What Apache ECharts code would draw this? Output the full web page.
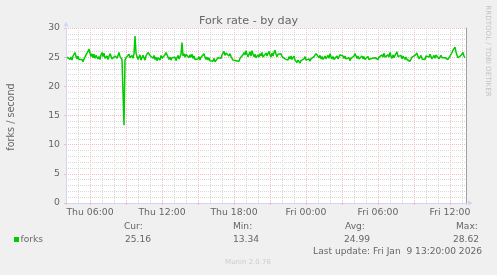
<!DOCTYPE html>
<html><head><meta charset="utf-8">
<script src="https://cdn.jsdelivr.net/npm/echarts@6/dist/echarts.min.js"></script>
<style>html,body{margin:0;padding:0;background:#F0F0F0}#c{width:497px;height:275px}</style>
</head><body><div id="c"></div>
<script>
const chartTitle = 'Fork rate - by day';
const yAxisTitle = 'forks / second';
const seriesName = 'forks';
const startHour = 4;            // Thu 04:00
const endHour = 37 + 20 / 60;   // Fri 13:20
const stepMinutes = 5;
const dayNames = ['Thu', 'Fri'];
const legendLabels = ['Cur:', 'Min:', 'Avg:', 'Max:'];
const legendValues = ['25.16', '13.34', '24.99', '28.62'];
const lastUpdate = 'Last update: Fri Jan  9 13:20:00 2026';
const watermark = 'RRDTOOL / TOBI OETIKER';
const version = 'Munin 2.0.76';

const forks = [
  25.0,24.7,25.3,24.6,25.0,24.5,25.2,25.4,25.8,25.1,24.7,25.2,24.6,24.8,24.3,24.6,24.2,24.7,24.9,25.4,
  25.7,26.0,26.4,25.7,25.1,25.6,24.9,25.5,24.8,25.3,25.6,24.7,25.1,24.6,25.4,25.8,25.1,25.7,24.8,24.7,
  25.2,24.6,25.1,25.6,25.2,24.7,25.0,24.5,25.2,25.5,24.8,25.3,25.8,25.1,24.8,24.6,24.8,13.34,24.5,24.9,
  24.7,25.2,25.5,24.9,24.6,25.3,24.8,25.6,28.62,25.7,25.1,24.6,25.0,25.4,24.5,24.9,25.3,25.0,24.5,25.2,
  25.5,25.8,26.0,25.3,25.6,25.0,24.8,25.3,24.6,25.0,24.4,24.9,25.2,24.5,25.3,24.8,24.6,25.1,25.4,25.8,
  25.6,25.0,24.6,25.0,24.5,24.9,25.2,24.6,25.0,24.4,24.9,25.3,24.7,25.1,25.5,27.5,25.2,25.6,25.0,25.5,
  25.2,25.7,24.9,25.4,25.0,25.5,24.8,25.2,24.6,24.9,24.3,24.7,25.1,24.5,25.0,25.3,24.8,25.6,25.0,24.6,
  25.0,24.5,24.9,24.4,24.2,24.6,24.3,24.8,24.2,24.5,24.3,24.9,24.6,25.2,24.8,25.4,25.6,26.0,25.3,25.7,
  25.4,25.9,25.2,25.6,25.1,24.8,24.5,24.3,24.8,24.4,24.2,24.7,24.3,24.8,24.5,25.0,25.4,25.8,25.4,26.1,
  25.5,25.1,25.5,25.9,25.2,26.1,25.5,25.1,25.5,24.9,24.8,25.4,25.0,25.6,25.2,25.8,25.0,24.8,25.3,25.7,
  25.2,25.6,26.0,25.4,25.0,25.7,25.2,25.8,26.2,25.5,25.1,25.5,25.8,25.2,25.6,25.1,24.8,25.2,24.7,25.0,
  24.9,24.5,25.1,24.7,25.2,24.6,24.9,25.2,24.5,24.3,24.1,24.5,24.2,24.0,24.4,24.1,24.5,24.7,25.1,24.5,
  24.8,24.4,24.7,24.3,24.7,25.0,24.5,25.1,25.3,25.6,25.9,25.3,24.9,25.3,24.7,25.1,24.6,24.9,25.2,24.7,
  25.0,25.3,24.8,25.6,25.1,24.7,25.1,24.6,24.5,24.8,25.2,24.7,25.0,25.4,25.1,25.7,25.2,24.8,25.2,24.7,
  25.0,24.6,24.9,24.4,24.8,25.1,24.6,25.2,25.6,25.2,24.8,25.2,24.7,24.4,24.8,25.2,24.7,25.1,24.6,24.9,
  24.8,25.1,24.6,24.9,24.4,24.8,25.1,24.6,24.9,24.7,25.2,24.6,25.0,25.3,24.9,25.4,25.0,25.7,25.0,25.3,
  24.9,25.4,25.0,25.8,25.2,24.8,25.4,24.9,25.3,25.5,25.9,25.1,25.4,24.8,25.3,24.7,25.2,24.9,24.6,25.0,
  24.6,24.9,24.5,24.3,24.6,25.0,25.2,24.7,25.3,25.0,25.7,25.1,24.7,25.0,25.3,24.7,25.0,24.9,24.6,25.2,
  24.9,25.3,25.0,25.5,25.1,24.7,25.0,25.3,24.8,25.4,25.7,25.1,24.7,25.0,25.3,24.9,24.6,25.2,24.9,24.7,
  25.0,24.6,24.9,25.2,25.5,25.8,26.2,26.4,26.7,25.9,25.3,24.9,24.6,25.0,25.3,25.6,25.8,25.2,24.9,25.16
];

const FONT = '"DejaVu Sans", sans-serif';
const TXT = '#666666';
const MGRID = '#F2BDBD';
const GRID = '#D8D8D8';
const AXIS = '#CFD6F8';

const seriesData = forks.map((v, i) => [startHour + (i + 1) * stepMinutes / 60, v]);

function timeLabel(v) {
  const hr = Math.round(v);
  if (Math.abs(v - hr) > 1e-6 || hr % 6 !== 0) return '';
  const d = dayNames[Math.floor(hr / 24)];
  const hh = hr % 24;
  return d + ' ' + String(hh).padStart(2, '0') + ':00';
}

const legendX = [124, 233, 345, 456];
const legendValX = [125, 233, 344, 453];

const graphics = [
  { type: 'text', x: 248.5, y: 21, style: { text: chartTitle, font: '11.2px ' + FONT, fill: TXT, align: 'center', verticalAlign: 'middle' } },
  { type: 'text', x: 11.5, y: 117, rotation: Math.PI / 2, style: { text: yAxisTitle, font: '9.6px ' + FONT, fill: TXT, align: 'center', verticalAlign: 'middle' } },
  { type: 'text', x: 487.5, y: 51, rotation: -Math.PI / 2, style: { text: watermark, font: '7.1px ' + FONT, fill: '#C4C4C4', align: 'center', verticalAlign: 'middle' } },
  { type: 'rect', shape: { x: 14, y: 237, width: 5, height: 5 }, style: { fill: '#00CC00' } },
  { type: 'text', x: 20.5, y: 239.5, style: { text: seriesName, font: '9.1px ' + FONT, fill: TXT, align: 'left', verticalAlign: 'middle' } },
  { type: 'text', x: 482, y: 251.5, style: { text: lastUpdate, font: '9.1px ' + FONT, fill: TXT, align: 'right', verticalAlign: 'middle' } },
  { type: 'text', x: 248, y: 262.5, style: { text: version, font: '7px ' + FONT, fill: '#CCCCCC', align: 'center', verticalAlign: 'middle' } }
];
legendLabels.forEach((t, k) => {
  graphics.push({ type: 'text', x: legendX[k], y: 227, style: { text: t, font: '9.1px ' + FONT, fill: TXT, align: 'left', verticalAlign: 'middle' } });
  graphics.push({ type: 'text', x: legendValX[k], y: 239.5, style: { text: legendValues[k], font: '9.1px ' + FONT, fill: TXT, align: 'left', verticalAlign: 'middle' } });
});

const chart = echarts.init(document.getElementById('c'), null, { renderer: 'canvas' });
chart.setOption({
  animation: false,
  backgroundColor: '#F0F0F0',
  grid: { left: 66, top: 28, width: 400, height: 175, show: true, backgroundColor: '#FFFFFF', borderWidth: 0 },
  xAxis: [
    {
      type: 'value', min: startHour, max: endHour, splitNumber: 11, minInterval: 3, maxInterval: 3, z: 1,
      axisLine: { show: true, onZero: false, lineStyle: { color: AXIS, width: 1 }, symbol: ['none', 'triangle'], symbolSize: [5, 5], symbolOffset: [0, 4.5] },
      axisTick: { show: true, length: 2, lineStyle: { color: MGRID } },
      axisLabel: { margin: 5, color: TXT, fontFamily: FONT, fontSize: 9.3, formatter: timeLabel },
      splitLine: { show: true, showMinLine: false, showMaxLine: false, lineStyle: { color: MGRID, type: [1, 1], width: 1 } }
    },
    {
      type: 'value', min: startHour, max: endHour, interval: 1, z: 0, position: 'bottom',
      axisLine: { show: false }, axisTick: { show: false }, axisLabel: { show: false },
      splitLine: { show: true, showMinLine: false, showMaxLine: false, lineStyle: { color: GRID, type: [1, 1], width: 1 } }
    }
  ],
  yAxis: [
    {
      type: 'value', min: 0, max: 30, interval: 5, z: 1,
      axisLine: { show: true, onZero: false, lineStyle: { color: AXIS, width: 1 }, symbol: ['none', 'triangle'], symbolSize: [5, 5], symbolOffset: [0, 4] },
      axisTick: { show: true, length: 2, lineStyle: { color: MGRID } },
      axisLabel: { margin: 6, color: TXT, fontFamily: FONT, fontSize: 9.3 },
      splitLine: { show: true, showMinLine: false, lineStyle: { color: MGRID, type: [1, 1], width: 1 } }
    },
    {
      type: 'value', min: 0, max: 30, interval: 1, z: 0, position: 'right',
      axisLine: { show: true, lineStyle: { color: '#A0A0A0', width: 1 } }, axisTick: { show: false }, axisLabel: { show: false },
      splitLine: { show: true, showMinLine: false, lineStyle: { color: GRID, type: [1, 1], width: 1 } }
    }
  ],
  series: [{
    name: seriesName, type: 'line', xAxisIndex: 0, yAxisIndex: 0, data: seriesData,
    showSymbol: false, symbol: 'none', lineStyle: { color: '#00CC00', width: 1.5 }, z: 3
  }],
  graphic: graphics
});
</script></body></html>
